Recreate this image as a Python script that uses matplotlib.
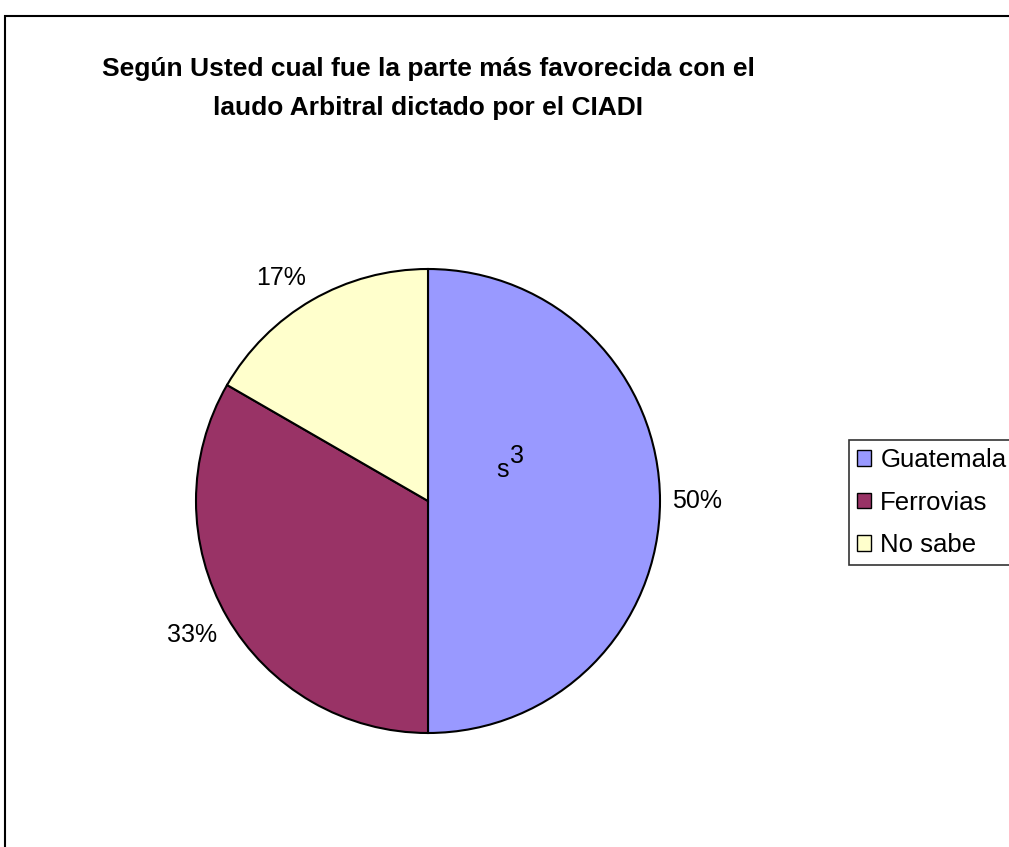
import matplotlib
matplotlib.use("Agg")
import numpy as np
import matplotlib.pyplot as plt
from matplotlib.patches import Rectangle, Patch

categories = ["Guatemala", "Ferrovias", "No sabe"]
values = [3, 2, 1]
colors = ["#9999FF", "#993366", "#FFFFCC"]
title_lines = ["Según Usted cual fue la parte más favorecida con el",
               "laudo Arbitral dictado por el CIADI"]

plt.rcParams['font.family'] = ['Liberation Sans', 'DejaVu Sans']

W, H = 1009, 847
fig = plt.figure(figsize=(W / 100, H / 100), dpi=100)
ax = fig.add_axes([0, 0, 1, 1])

# outer chart frame
ax.add_patch(Rectangle((5, -20), 1100, H - 16 + 20, fill=False, edgecolor='black',
                       linewidth=1.5, clip_on=False))

cx, cy, r = 428, H - 501, 232
wedges, texts, autotexts = ax.pie(
    values, colors=colors, startangle=90, counterclock=False,
    center=(cx, cy), radius=r, frame=True,
    autopct=lambda p: f"{p:.0f}%",
    wedgeprops=dict(edgecolor='black', linewidth=1.5),
    textprops=dict(fontsize=18, color='black'))
ax.set_xlim(0, W)
ax.set_ylim(0, H)
ax.set_aspect('equal')
ax.axis('off')

# Excel-style outside labels: box corner touches a point just outside the rim
gap = 12
for w, t in zip(wedges, autotexts):
    ang = np.deg2rad((w.theta1 + w.theta2) / 2)
    c, s = np.cos(ang), np.sin(ang)
    t.set_position((cx + (r + gap) * c, cy + (r + gap) * s))
    t.set_ha('left' if c > 0.15 else ('right' if c < -0.15 else 'center'))
    t.set_va('bottom' if s > 0.15 else ('top' if s < -0.15 else 'center'))

ax.text(503, H - 470, "s", fontsize=18, ha='center', va='center')
ax.text(517, H - 456, "3", fontsize=18, ha='center', va='center')

for i, line in enumerate(title_lines):
    ax.text(428, H - (76 + 39 * i), line, fontsize=19, fontweight='bold',
            ha='center', va='baseline')

handles = [Patch(facecolor=c, edgecolor='black', linewidth=1) for c in colors]
leg = fig.legend(handles, categories, loc='upper left', bbox_to_anchor=(849 / W, 1 - 440 / H),
                 prop=dict(size=18.5), frameon=True, fancybox=False, borderpad=0.32,
                 handlelength=0.55, handleheight=0.55, handletextpad=0.35, labelspacing=0.72,
                 borderaxespad=0)
leg.get_frame().set_edgecolor('black')
leg.get_frame().set_linewidth(1.2)

fig.savefig("out.png", dpi=100)
